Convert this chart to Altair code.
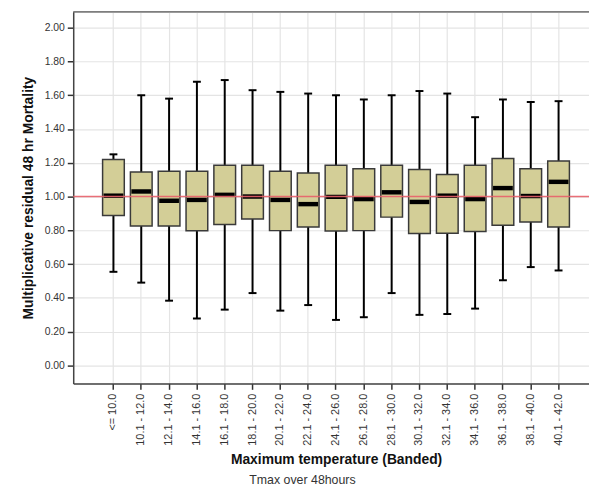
import altair as alt
import pandas as pd

categories = ["<= 10.0", "10.1 - 12.0", "12.1 - 14.0", "14.1 - 16.0", "16.1 - 18.0",
              "18.1 - 20.0", "20.1 - 22.0", "22.1 - 24.0", "24.1 - 26.0", "26.1 - 28.0",
              "28.1 - 30.0", "30.1 - 32.0", "32.1 - 34.0", "34.1 - 36.0", "36.1 - 38.0",
              "38.1 - 40.0", "40.1 - 42.0"]
whisker_high = [1.25, 1.60, 1.58, 1.68, 1.69, 1.63, 1.62, 1.61, 1.60, 1.575, 1.60, 1.625,
                1.61, 1.47, 1.575, 1.56, 1.565]
q3 = [1.22, 1.145, 1.15, 1.15, 1.185, 1.185, 1.15, 1.14, 1.185, 1.165, 1.185, 1.16,
      1.13, 1.185, 1.225, 1.165, 1.21]
median = [1.005, 1.03, 0.975, 0.98, 1.01, 1.0, 0.98, 0.955, 0.998, 0.985, 1.025, 0.968,
          1.005, 0.985, 1.05, 1.003, 1.087]
q1 = [0.888, 0.826, 0.826, 0.797, 0.835, 0.867, 0.798, 0.82, 0.796, 0.798, 0.878, 0.781,
      0.783, 0.793, 0.83, 0.849, 0.82]
whisker_low = [0.554, 0.49, 0.383, 0.277, 0.33, 0.428, 0.324, 0.357, 0.269, 0.285, 0.428,
               0.299, 0.304, 0.336, 0.504, 0.582, 0.562]
y_ticks = [0.0, 0.2, 0.4, 0.6, 0.8, 1.0, 1.2, 1.4, 1.6, 1.8, 2.0]
reference_value = 1.0

df = pd.DataFrame({"cat": categories, "hi": whisker_high, "q3": q3, "med": median,
                   "q1": q1, "lo": whisker_low})

FONT = "Arial, Liberation Sans, sans-serif"
W, H = 522, 376

xscale = alt.Scale(domain=categories, paddingInner=0.22, paddingOuter=0.88, align=0.6, round=False)
yscale = alt.Scale(domain=[-0.107, 2.094], nice=False, zero=False)

xenc = alt.X("cat:N", scale=xscale, sort=categories,
             axis=alt.Axis(title="Maximum temperature (Banded)", labelAngle=-90, grid=True,
                           bandPosition=0.5, gridColor="#e4e4e4", gridWidth=1.2,
                           domainColor="#444444", domainWidth=1.5, tickColor="#333333",
                           tickWidth=1.5, tickSize=6, labelPadding=4, labelFontSize=11,
                           labelColor="#333333", labelFont=FONT, titleFont=FONT,
                           labelOverlap=False,
                           titleFontSize=14, titleFontWeight="bold", titleColor="#111111",
                           titleX=266, titleY=77, titleBaseline="middle"))
yenc = alt.Y("lo:Q", scale=yscale,
             axis=alt.Axis(title="Multiplicative residual 48 hr Mortality", values=y_ticks,
                           tickCount=30,
                           format=".2f", grid=True, gridColor="#e4e4e4", gridWidth=1.2,
                           domainColor="#444444", domainWidth=1.5, tickColor="#333333",
                           tickWidth=1.5, tickSize=6, labelPadding=3, labelFontSize=10.5,
                           labelColor="#333333", labelFont=FONT, titleFont=FONT,
                           labelOverlap=False,
                           titleFontSize=14, titleFontWeight="bold", titleColor="#111111",
                           titleX=-45, titleBaseline="middle"))

base = alt.Chart(df)

whiskers = base.mark_rule(color="#000000", strokeWidth=2).encode(x=xenc, y=yenc, y2="hi:Q")
caps_hi = base.mark_tick(color="#000000", size=8, thickness=2, opacity=1).encode(
    x=alt.X("cat:N", scale=xscale, sort=categories), y=alt.Y("hi:Q", scale=yscale))
caps_lo = base.mark_tick(color="#000000", size=8, thickness=2, opacity=1).encode(
    x=alt.X("cat:N", scale=xscale, sort=categories), y=alt.Y("lo:Q", scale=yscale))
boxes = base.mark_bar(color="#d3ce97", stroke="#3a3a3a", strokeWidth=1.5, opacity=1).encode(
    x=alt.X("cat:N", scale=xscale, sort=categories), y=alt.Y("q1:Q", scale=yscale), y2="q3:Q")
medians = base.mark_tick(color="#000000", size=20, thickness=4.5, opacity=1).encode(
    x=alt.X("cat:N", scale=xscale, sort=categories), y=alt.Y("med:Q", scale=yscale))
ref = alt.Chart(pd.DataFrame({"v": [reference_value]})).mark_rule(
    color="#e8606a", strokeWidth=1.5, opacity=0.9).encode(y=alt.Y("v:Q", scale=yscale))
top_border = alt.Chart(pd.DataFrame({"v": [reference_value]})).mark_rule(
    color="#555555", strokeWidth=1.5).encode(x=alt.value(0), x2=alt.value(W), y=alt.value(0))
subtitle = alt.Chart(pd.DataFrame({"t": ["Tmax over 48hours"]})).mark_text(
    font=FONT, fontSize=12.5, color="#333333", align="center", baseline="middle").encode(
    text="t:N", x=alt.value(232), y=alt.value(474))

chart = alt.layer(whiskers, caps_hi, caps_lo, boxes, medians, ref, top_border, subtitle).properties(
    width=W, height=H, autosize=alt.AutoSizeParams(type="none"),
    padding={"left": 66, "top": 1, "right": 0, "bottom": 107}
).configure_view(stroke=None).configure(background="white")

chart.save("out.html", embed_options={"renderer": "svg", "actions": False})
